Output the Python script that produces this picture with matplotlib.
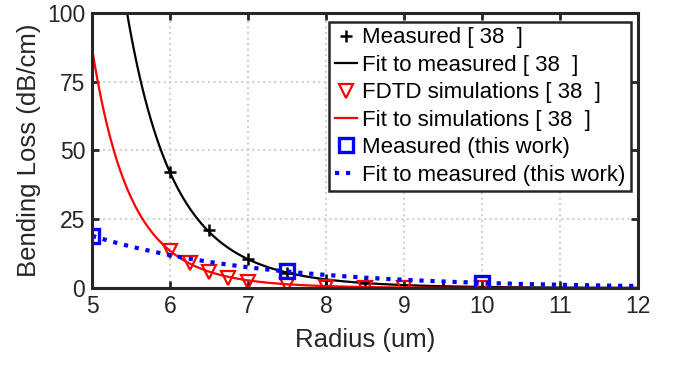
import numpy as np
import matplotlib
matplotlib.use('Agg')
from matplotlib import pyplot as plt

plt.rcParams['font.family'] = ['Liberation Sans', 'DejaVu Sans']

# measured points from [38]
r_meas = [6, 6.5, 7, 7.5, 8, 8.5, 9.5]
loss_meas = [42, 21, 10.5, 5.5, 2.9, 1.7, 0.5]

# FDTD simulations from [38]
r_fdtd = [6, 6.25, 6.5, 6.75, 7, 7.5, 8, 8.5, 9, 10]
loss_fdtd = [13.5, 9, 6, 3.8, 2.3, 1.2, 0.5, 0.2, 0.1, 0.0]

# this work
r_this = [5, 7.5, 10]
loss_this = [19, 6.3, 2]

# fit parameters
fit_meas = (42, 6, 9.0)       # a * (r0/R)^n
fit_sim = (87, 5, 10.2)       # a * (r0/R)^n
fit_this = (19, 5, 0.46)      # a * exp(-k (R - r0))

R = np.linspace(5, 12, 400)
y_fit_meas = fit_meas[0] * (fit_meas[1] / R) ** fit_meas[2]
y_fit_sim = fit_sim[0] * (fit_sim[1] / R) ** fit_sim[2]
y_fit_this = fit_this[0] * np.exp(-fit_this[2] * (R - fit_this[1]))

fig = plt.figure(figsize=(6.77, 3.67), dpi=100)
ax = fig.add_axes([0.136, 0.215, 0.806, 0.75])

ax.plot(r_meas, loss_meas, '+', color='k', ms=9, mew=1.8, label='Measured [ 38  ]')
ax.plot(R, y_fit_meas, '-', color='k', lw=1.6, label='Fit to measured [ 38  ]')
ax.plot(r_fdtd, loss_fdtd, 'v', color='r', mfc='none', ms=10, mew=1.6, label='FDTD simulations [ 38  ]')
ax.plot(R, y_fit_sim, '-', color='r', lw=1.6, label='Fit to simulations [ 38  ]')
ax.plot(r_this, loss_this, 's', color='b', mfc='none', ms=10, mew=2.4, label='Measured (this work)')
ax.plot(R, y_fit_this, ':', color='b', lw=3, label='Fit to measured (this work)')

ax.set_xlim(5, 12)
ax.set_ylim(0, 100)
ax.set_xticks(range(5, 13))
ax.set_yticks([0, 25, 50, 75, 100])
ax.grid(True, color='#d0d0d0', linestyle=':', linewidth=1.5)
ax.tick_params(direction='in', top=True, right=True, length=5, width=2,
               labelsize=16.5, colors='#262626', pad=5)
for s in ax.spines.values():
    s.set_linewidth(2.2)
    s.set_color('#262626')

ax.set_xlabel('Radius (um)', fontsize=18.5, color='#262626', labelpad=7)
ax.set_ylabel('Bending Loss (dB/cm)', fontsize=18.5, color='#262626', labelpad=4)

leg = ax.legend(loc='upper right', bbox_to_anchor=(0.987, 0.967), fontsize=16,
                handlelength=1.0, handletextpad=0.2, borderpad=0.25,
                labelspacing=0.29, borderaxespad=0, fancybox=False, framealpha=1)
leg.get_frame().set_edgecolor('#262626')
leg.get_frame().set_linewidth(1.8)

fig.savefig('out.png')
